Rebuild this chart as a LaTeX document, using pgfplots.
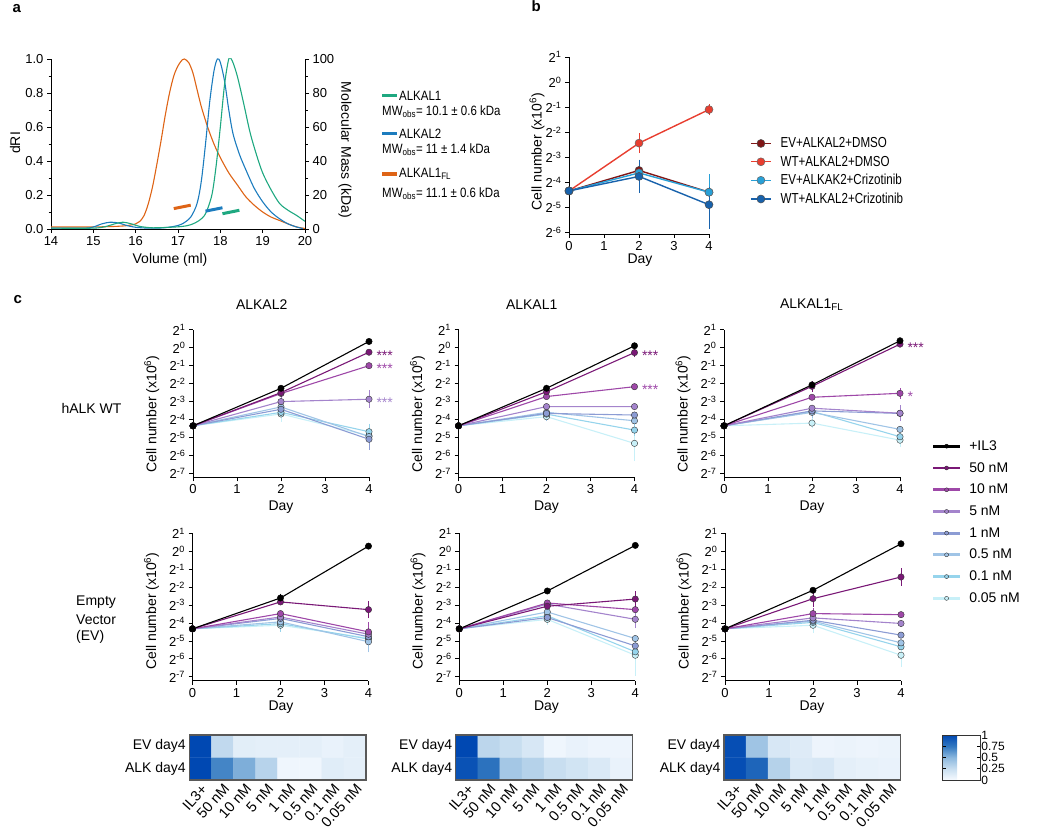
\documentclass[border=0pt]{standalone}
\usepackage{pgfplots}
\pgfplotsset{compat=1.18}
\usepackage{fontspec}
\setmainfont{Liberation Sans}
\newfontfamily\narrowa[FakeStretch=0.85]{Liberation Sans}
\newfontfamily\narrowb[FakeStretch=0.8]{Liberation Sans}

\definecolor{agreen}{RGB}{30,168,128}
\definecolor{ablue}{RGB}{28,124,190}
\definecolor{aorange}{RGB}{222,100,22}
\definecolor{bevd}{RGB}{128,22,22}
\definecolor{bwtd}{RGB}{232,62,48}
\definecolor{bevc}{RGB}{40,160,215}
\definecolor{bwtc}{RGB}{24,98,172}
\definecolor{cfifty}{RGB}{122,24,118}
\definecolor{cten}{RGB}{158,72,168}
\definecolor{cfive}{RGB}{164,132,204}
\definecolor{cone}{RGB}{140,156,212}
\definecolor{chalf}{RGB}{160,196,230}
\definecolor{ctenth}{RGB}{150,212,236}
\definecolor{ctw}{RGB}{200,240,248}

\newcommand\fs[1]{\fontsize{#1}{#1}\selectfont}
\newcommand\ls{\rule[-3pt]{0pt}{12pt}}
\newcommand\tw[1]{2\textsuperscript{#1}}

\pgfplotsset{
 colormap={myblues}{rgb255=(246,250,255) rgb255=(200,222,240) rgb255=(140,184,222) rgb255=(50,120,192) rgb255=(0,72,178)},
 base/.style={scale only axis, anchor=south west, font=\fs{13},
   tick label style={font=\fs{13}},
   axis line style={line width=0.8pt, black},
   tick style={line width=0.7pt, black},
   major tick length=4pt, minor tick length=2.5pt, tick align=outside,
   /pgf/number format/assume math mode=true},
 growth/.style={base, width=176pt, height=147.5pt, xmin=0, xmax=4, ymin=-7.22, ymax=1,
   axis x line*=bottom, axis y line*=left, xtick={0,1,2,3,4}, ytick={-7,...,1},
   yticklabels={\tw{-7},\tw{-6},\tw{-5},\tw{-4},\tw{-3},\tw{-2},\tw{-1},\tw{0},\tw{1}},
   clip=false,
   every axis plot/.append style={line width=1.1pt, mark=*, mark size=3.2pt,
     error bars/y dir=both, error bars/y explicit, error bars/error bar style={line width=0.6pt}, error bars/error mark options={line width=0.6pt, mark size=2.5pt}}},
 sil/.style={black, mark options={fill=black, draw=black, line width=0.4pt}},
 sfifty/.style={cfifty, mark options={fill=cfifty, draw=black!80, line width=0.4pt}},
 sten/.style={cten, mark options={fill=cten, draw=black!80, line width=0.4pt}},
 sfive/.style={cfive, mark options={fill=cfive, draw=black!80, line width=0.4pt}},
 sone/.style={cone, mark options={fill=cone, draw=black!80, line width=0.4pt}},
 shalf/.style={chalf, mark options={fill=chalf, draw=black!80, line width=0.4pt}},
 stenth/.style={ctenth, mark options={fill=ctenth, draw=black!80, line width=0.4pt}},
 stw/.style={ctw, mark options={fill=ctw, draw=black!80, line width=0.4pt}},
 heat/.style={base, width=176.7pt, height=45pt, xmin=-0.5, xmax=7.5, ymin=-0.5, ymax=1.5,
   enlargelimits=false, axis on top, colormap name=myblues, point meta min=0, point meta max=1,
   xtick={0,...,7}, xticklabels={IL3+,50 nM,10 nM,5 nM,1 nM,0.5 nM,0.1 nM,0.05 nM},
   ytick={0,1}, yticklabels={ALK day4,EV day4}, major tick length=0pt,
   xticklabel style={rotate=48, anchor=north east, font=\fs{14.5}, inner sep=2pt},
   yticklabel style={font=\fs{14}},
   axis line style={line width=1.2pt, draw=black!65}},
}

\begin{document}
\begin{tikzpicture}
\useasboundingbox (0,0) rectangle (1040pt,832pt);

% ---------------- panel a ----------------
\node[anchor=base west, font=\bfseries\fs{15}] at (9pt,819pt) {a};
\begin{axis}[base, at={(51pt,603pt)}, width=254pt, height=170pt,
  xmin=14, xmax=20, ymin=0, ymax=1, axis x line*=bottom, axis y line*=left,
  xtick={14,...,20}, ytick={0,0.2,0.4,0.6,0.8,1}, minor y tick num=1,
  yticklabel style={/pgf/number format/.cd, fixed, fixed zerofill, precision=1},
  every axis plot/.append style={line width=1.1pt}]
\addplot[aorange, smooth] coordinates {(14,0.012) (14.5,0.012) (15,0.012) (15.5,0.015) (15.8,0.02) (16.0,0.03) (16.1,0.045) (16.2,0.08) (16.3,0.15) (16.4,0.25) (16.5,0.38) (16.6,0.52) (16.7,0.67) (16.8,0.8) (16.9,0.9) (17.0,0.96) (17.1,0.995) (17.15,1.0) (17.25,0.98) (17.35,0.92) (17.45,0.82) (17.55,0.72) (17.7,0.6) (17.85,0.5) (18.0,0.42) (18.2,0.33) (18.4,0.26) (18.6,0.19) (18.8,0.14) (19.0,0.1) (19.2,0.07) (19.4,0.05) (19.6,0.03) (19.8,0.012) (20,0.003)};
\addplot[ablue, smooth] coordinates {(14,0.005) (14.8,0.005) (15.0,0.012) (15.2,0.03) (15.4,0.04) (15.6,0.035) (15.8,0.02) (16.0,0.01) (16.3,0.005) (16.6,0.006) (16.9,0.015) (17.1,0.03) (17.3,0.07) (17.45,0.15) (17.55,0.28) (17.65,0.5) (17.75,0.75) (17.85,0.93) (17.93,1.0) (18.0,0.98) (18.1,0.87) (18.2,0.7) (18.3,0.56) (18.45,0.44) (18.6,0.35) (18.8,0.24) (19.0,0.16) (19.2,0.1) (19.4,0.06) (19.6,0.03) (19.8,0.012) (19.95,0.002)};
\addplot[agreen, smooth] coordinates {(14,0.005) (15.0,0.005) (15.3,0.015) (15.5,0.03) (15.7,0.04) (15.9,0.03) (16.1,0.015) (16.4,0.007) (16.8,0.01) (17.1,0.015) (17.3,0.025) (17.5,0.05) (17.65,0.09) (17.8,0.2) (17.9,0.37) (18.0,0.6) (18.1,0.85) (18.2,1.0) (18.28,0.99) (18.4,0.9) (18.55,0.74) (18.7,0.57) (18.85,0.44) (19.0,0.33) (19.2,0.23) (19.4,0.15) (19.6,0.11) (19.8,0.08) (20.0,0.045)};
\end{axis}
\begin{axis}[base, at={(51pt,603pt)}, width=254pt, height=170pt,
  xmin=14, xmax=20, ymin=0, ymax=100, axis x line=none, axis y line*=right,
  ytick={0,20,40,60,80,100}, minor y tick num=1]
\addplot[aorange, line width=3pt] coordinates {(16.9,12) (17.3,14)};
\addplot[ablue, line width=3pt] coordinates {(17.65,10.5) (18.05,12.5)};
\addplot[agreen, line width=3pt] coordinates {(18.05,9) (18.45,11)};
\end{axis}
\node[rotate=90, font=\fs{14}] at (15pt,689pt) {dRI};
\node[font=\fs{14}] at (170pt,572pt) {Volume (ml)};
\node[rotate=-90, font=\fs{14}] at (345pt,682pt) {Molecular Mass (kDa)};
% legend a
\draw[agreen, line width=3.5pt] (382pt,736.3pt) -- (397pt,736.3pt);
\node[anchor=west, inner sep=1pt, font=\narrowa\fs{13.5}] at (398pt,736.3pt) {ALKAL1};
\node[anchor=west, inner sep=1pt, font=\narrowa\fs{13.5}] at (381pt,720.3pt) {MW\textsubscript{obs}= 10.1 ± 0.6 kDa};
\draw[ablue, line width=3.5pt] (382pt,698.7pt) -- (397pt,698.7pt);
\node[anchor=west, inner sep=1pt, font=\narrowa\fs{13.5}] at (398pt,698.7pt) {ALKAL2};
\node[anchor=west, inner sep=1pt, font=\narrowa\fs{13.5}] at (381pt,682pt) {MW\textsubscript{obs}= 11 ± 1.4 kDa};
\draw[aorange, line width=3.5pt] (382pt,658pt) -- (397pt,658pt);
\node[anchor=west, inner sep=1pt, font=\narrowa\fs{13.5}] at (398pt,658pt) {ALKAL1\textsubscript{FL}};
\node[anchor=west, inner sep=1pt, font=\narrowa\fs{13.5}] at (381pt,638.7pt) {MW\textsubscript{obs}= 11.1 ± 0.6 kDa};

% ---------------- panel b ----------------
\node[anchor=base west, font=\bfseries\fs{15}] at (528pt,820pt) {b};
\begin{axis}[base, at={(569pt,598pt)}, width=140pt, height=177pt,
  xmin=0, xmax=4, ymin=-6.07, ymax=1, axis x line*=bottom, axis y line*=left,
  xtick={0,1,2,3,4}, ytick={-6,...,1},
  yticklabels={\tw{-6},\tw{-5},\tw{-4},\tw{-3},\tw{-2},\tw{-1},\tw{0},\tw{1}},
  clip=false,
  every axis plot/.append style={line width=1.4pt, mark=*, mark size=4pt,
     error bars/y dir=both, error bars/y explicit, error bars/error bar style={line width=0.9pt}, error bars/error mark options={line width=0.9pt, mark size=3pt}},
  legend style={at={(1.293,0.354)}, anchor=west, draw=none, fill=none, inner sep=0pt,
     nodes={inner sep=1pt}, row sep=4.7pt, font=\narrowb\fs{14.5},
     /tikz/every odd column/.append style={column sep=8pt}},
  legend cell align=left,
  legend image code/.code={\draw[mark repeat=2,mark phase=2,#1] plot coordinates {(0pt,0pt) (10pt,0pt) (20pt,0pt)};}]
\addplot[bevd, mark options={fill=bevd, draw=black!70, line width=0.5pt}] coordinates {(0,-4.35) (2,-3.53) +- (0,0.2) (4,-4.4) +- (0,0.4)};
\addlegendentry{\ls EV+ALKAL2+DMSO}
\addplot[bwtd, mark options={fill=bwtd, draw=black!60, line width=0.5pt}] coordinates {(0,-4.35) (2,-2.44) +- (0,0.28) (4,-1.1) +- (0,0.1)};
\addlegendentry{\ls WT+ALKAL2+DMSO}
\addplot[bevc, mark options={fill=bevc, draw=black!60, line width=0.5pt}] coordinates {(0,-4.35) (2,-3.63) +- (0,0.1) (4,-4.4) +- (0,0.6)};
\addlegendentry{\ls EV+ALKAK2+Crizotinib}
\addplot[bwtc, mark options={fill=bwtc, draw=black!70, line width=0.5pt}] coordinates {(0,-4.35) (2,-3.77) +- (0,0.55) (4,-4.9) += (0,0.6) -= (0,0.85)};
\addlegendentry{\ls WT+ALKAL2+Crizotinib}
\end{axis}
\node[rotate=90, font=\fs{14}] at (537pt,680.3pt) {Cell number (x10\textsuperscript{6})};
\node[font=\fs{14}] at (640pt,572pt) {Day};

% ---------------- panel c ----------------
\node[anchor=base west, font=\bfseries\fs{15}] at (10pt,528pt) {c};
\node[font=\fs{14}] at (261.7pt,527pt) {ALKAL2};
\node[font=\fs{14}] at (531.7pt,527pt) {ALKAL1};
\node[font=\fs{14}] at (811.7pt,527pt) {ALKAL1\textsubscript{FL}};
\node[anchor=west, font=\fs{14}] at (58pt,424pt) {hALK WT};
\node[anchor=west, font=\fs{14}] at (72.7pt,230pt) {Empty};
\node[anchor=west, font=\fs{14}] at (72.7pt,212pt) {Vector};
\node[anchor=west, font=\fs{14}] at (72.7pt,195pt) {(EV)};

% top row ALKAL2
\begin{axis}[growth, at={(193pt,354.7pt)}]
\addplot[stw] coordinates {(0,-4.35) (2,-3.69) +- (0,0.3) (4,-4.9)};
\addplot[stenth] coordinates {(0,-4.35) (2,-3.6) (4,-4.68) +- (0,0.3)};
\addplot[shalf] coordinates {(0,-4.35) (2,-3.3) (4,-4.95)};
\addplot[sone] coordinates {(0,-4.35) (2,-3.43) +- (0,0.3) (4,-5.1) +- (0,0.45)};
\addplot[sfive] coordinates {(0,-4.35) (2,-3.0) +- (0,0.1) (4,-2.87) +- (0,0.35)};
\addplot[sten] coordinates {(0,-4.35) (2,-2.55) (4,-1.0)};
\addplot[sfifty] coordinates {(0,-4.35) (2,-2.5) +- (0,0.1) (4,-0.25)};
\addplot[sil] coordinates {(0,-4.35) (2,-2.26) (4,0.35)};
\node[anchor=west, text=cfifty, font=\fs{14}, xshift=4pt, yshift=-3.5pt] at (axis cs:4,-0.25) {***};
\node[anchor=west, text=cten, font=\fs{14}, xshift=4pt, yshift=-3.5pt] at (axis cs:4,-1.0) {***};
\node[anchor=west, text=cfive, font=\fs{14}, xshift=4pt, yshift=-3.5pt] at (axis cs:4,-2.87) {***};
\end{axis}
% top row ALKAL1
\begin{axis}[growth, at={(458.5pt,354.7pt)}]
\addplot[stw] coordinates {(0,-4.35) (2,-3.84) (4,-5.33) +- (0,0.85)};
\addplot[stenth] coordinates {(0,-4.35) (2,-3.7) (4,-4.59) +- (0,0.2)};
\addplot[shalf] coordinates {(0,-4.35) (2,-3.6) +- (0,0.35) (4,-4.07)};
\addplot[sone] coordinates {(0,-4.35) (2,-3.66) (4,-3.75)};
\addplot[sfive] coordinates {(0,-4.35) (2,-3.28) (4,-3.28)};
\addplot[sten] coordinates {(0,-4.35) (2,-2.72) (4,-2.17)};
\addplot[sfifty] coordinates {(0,-4.35) (2,-2.45) (4,-0.27) +- (0,0.12)};
\addplot[sil] coordinates {(0,-4.35) (2,-2.26) (4,0.11)};
\node[anchor=west, text=cfifty, font=\fs{14}, xshift=4pt, yshift=-3.5pt] at (axis cs:4,-0.27) {***};
\node[anchor=west, text=cten, font=\fs{14}, xshift=4pt, yshift=-3.5pt] at (axis cs:4,-2.17) {***};
\end{axis}
% top row ALKAL1FL
\begin{axis}[growth, at={(724pt,354.7pt)},
  legend style={at={(1.18,-0.305)}, anchor=west, draw=none, fill=none, inner sep=0pt,
     nodes={inner sep=1pt}, row sep=8.5pt, font=\fs{14},
     /tikz/every odd column/.append style={column sep=7pt}},
  legend cell align=left, reverse legend,
  legend image code/.code={\draw[mark repeat=2,mark phase=2,#1, line width=2.8pt, mark size=2pt] plot coordinates {(0pt,0pt) (13.3pt,0pt) (26.6pt,0pt)};}]
\addplot[stw] coordinates {(0,-4.35) (2,-4.2) +- (0,0.15) (4,-5.15) +- (0,0.25)};
\addlegendentry{\ls 0.05 nM}
\addplot[stenth] coordinates {(0,-4.35) (2,-3.55) (4,-4.96)};
\addlegendentry{\ls 0.1 nM}
\addplot[shalf] coordinates {(0,-4.35) (2,-3.6) +- (0,0.2) (4,-4.55)};
\addlegendentry{\ls 0.5 nM}
\addplot[sone] coordinates {(0,-4.35) (2,-3.52) (4,-3.66)};
\addlegendentry{\ls 1 nM}
\addplot[sfive] coordinates {(0,-4.35) (2,-3.37) (4,-3.65) +- (0,0.3)};
\addlegendentry{\ls 5 nM}
\addplot[sten] coordinates {(0,-4.35) (2,-2.76) (4,-2.54) +- (0,0.15)};
\addlegendentry{\ls 10 nM}
\addplot[sfifty] coordinates {(0,-4.35) (2,-2.15) +- (0,0.15) (4,0.2)};
\addlegendentry{\ls 50 nM}
\addplot[sil] coordinates {(0,-4.35) (2,-2.07) (4,0.39)};
\addlegendentry{\ls +IL3}
\node[anchor=west, text=cfifty, font=\fs{14}, xshift=4pt, yshift=-3.5pt] at (axis cs:4,0.2) {***};
\node[anchor=west, text=cten, font=\fs{14}, xshift=4pt, yshift=-3.5pt] at (axis cs:4,-2.54) {*};
\end{axis}

% bottom row EV ALKAL2
\begin{axis}[growth, at={(192.5pt,151.3pt)}]
\addplot[stw] coordinates {(0,-4.33) (2,-4.13) (4,-4.85)};
\addplot[stenth] coordinates {(0,-4.33) (2,-4.04) +- (0,0.3) (4,-4.9)};
\addplot[shalf] coordinates {(0,-4.33) (2,-3.94) (4,-5.05) +- (0,0.45)};
\addplot[sone] coordinates {(0,-4.33) (2,-3.75) (4,-4.77)};
\addplot[sfive] coordinates {(0,-4.33) (2,-3.67) (4,-4.63)};
\addplot[sten] coordinates {(0,-4.33) (2,-3.48) (4,-4.5) +- (0,0.4)};
\addplot[sfifty] coordinates {(0,-4.33) (2,-2.83) (4,-3.26) +- (0,0.35)};
\addplot[sil] coordinates {(0,-4.33) (2,-2.61) +- (0,0.1) (4,0.28)};
\end{axis}
% bottom row EV ALKAL1
\begin{axis}[growth, at={(459.3pt,151.3pt)}]
\addplot[stw] coordinates {(0,-4.33) (2,-3.8) +- (0,0.15) (4,-5.8) +- (0,1.0)};
\addplot[stenth] coordinates {(0,-4.33) (2,-3.6) (4,-5.61)};
\addplot[shalf] coordinates {(0,-4.33) (2,-3.39) (4,-4.87)};
\addplot[sone] coordinates {(0,-4.33) (2,-3.7) (4,-5.28)};
\addplot[sfive] coordinates {(0,-4.33) (2,-2.95) (4,-3.8) +- (0,0.35)};
\addplot[sten] coordinates {(0,-4.33) (2,-2.89) (4,-3.26)};
\addplot[sfifty] coordinates {(0,-4.33) (2,-3.07) (4,-2.67) +- (0,0.3)};
\addplot[sil] coordinates {(0,-4.33) (2,-2.22) (4,0.32)};
\end{axis}
% bottom row EV ALKAL1FL
\begin{axis}[growth, at={(725pt,151.3pt)}]
\addplot[stw] coordinates {(0,-4.33) (2,-4.13) +- (0,0.3) (4,-5.8) +- (0,0.5)};
\addplot[stenth] coordinates {(0,-4.33) (2,-3.97) (4,-5.33)};
\addplot[shalf] coordinates {(0,-4.33) (2,-3.9) (4,-5.11)};
\addplot[sone] coordinates {(0,-4.33) (2,-3.85) (4,-4.68)};
\addplot[sfive] coordinates {(0,-4.33) (2,-3.72) (4,-4.03)};
\addplot[sten] coordinates {(0,-4.33) (2,-3.48) +- (0,0.15) (4,-3.54)};
\addplot[sfifty] coordinates {(0,-4.33) (2,-2.65) +- (0,0.3) (4,-1.44) +- (0,0.35)};
\addplot[sil] coordinates {(0,-4.33) (2,-2.18) (4,0.41)};
\end{axis}

% axis labels panel c
\foreach \xx in {151.7,417.5,683} {\node[rotate=90, font=\fs{14}] at (\xx pt,418pt) {Cell number (x10\textsuperscript{6})};}
\foreach \xx in {151.5,418,684} {\node[rotate=90, font=\fs{14}] at (\xx pt,221pt) {Cell number (x10\textsuperscript{6})};}
\foreach \xx in {281,546.5,812} {\node[font=\fs{14}] at (\xx pt,325.3pt) {Day}; \node[font=\fs{14}] at (\xx pt,125.3pt) {Day};}

% heatmaps
\begin{axis}[heat, at={(189.3pt,52pt)}]
\addplot[matrix plot*, mesh/cols=8, point meta=explicit] table[meta=c] {
x y c
0 0 1.0
1 0 0.70
2 0 0.54
3 0 0.32
4 0 0.04
5 0 0.04
6 0 0.12
7 0 0.10
0 1 1.0
1 1 0.28
2 1 0.11
3 1 0.10
4 1 0.10
5 1 0.10
6 1 0.07
7 1 0.10
};
\end{axis}
\begin{axis}[heat, at={(455.7pt,52pt)}]
\addplot[matrix plot*, mesh/cols=8, point meta=explicit] table[meta=c] {
x y c
0 0 0.95
1 0 0.78
2 0 0.40
3 0 0.33
4 0 0.25
5 0 0.20
6 0 0.15
7 0 0.07
0 1 1.0
1 1 0.30
2 1 0.25
3 1 0.17
4 1 0.04
5 1 0.07
6 1 0.05
7 1 0.05
};
\end{axis}
\begin{axis}[heat, at={(724pt,52pt)}]
\addplot[matrix plot*, mesh/cols=8, point meta=explicit] table[meta=c] {
x y c
0 0 0.97
1 0 0.85
2 0 0.33
3 0 0.15
4 0 0.17
5 0 0.10
6 0 0.08
7 0 0.07
0 1 0.97
1 1 0.42
2 1 0.17
3 1 0.13
4 1 0.05
5 1 0.06
6 1 0.05
7 1 0.06
};
\end{axis}
% colorbar
\begin{axis}[scale only axis, anchor=south west, at={(934.3pt,52pt)}, width=37.4pt, height=45pt,
  hide axis, xmin=0, xmax=1, ymin=0, ymax=1, colormap name=myblues,
  point meta min=0, point meta max=1, colorbar,
  colorbar style={at={(parent axis.south west)}, anchor=south west, hide axis=false,
    scale only axis, width=37.4pt, height=45pt,
    ytick={0,0.25,0.5,0.75,1}, yticklabels={0,0.25,0.5,0.75,1},
    yticklabel style={font=\fs{12}, inner sep=1pt},
    major tick length=3pt, tick align=inside,
    axis line style={line width=1pt, black!80}, tick style={black, line width=0.6pt}}]
\addplot[draw=none] coordinates {(0,0)};
\end{axis}
\end{tikzpicture}
\end{document}
